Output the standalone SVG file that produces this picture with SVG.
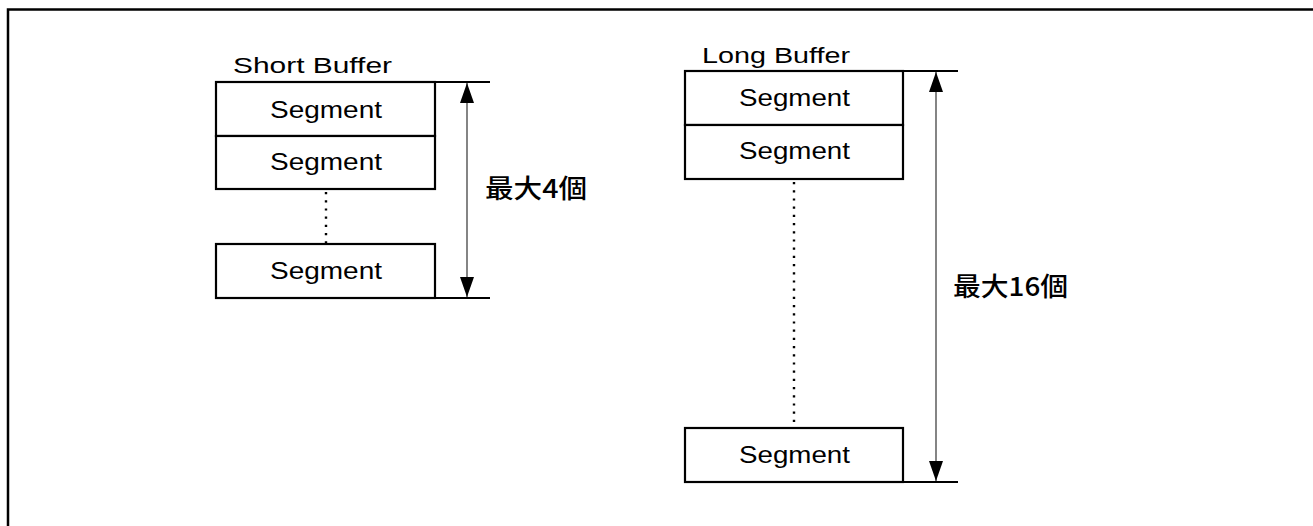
<svg xmlns="http://www.w3.org/2000/svg" width="1313" height="526" viewBox="0 0 1313 526">
<style>
.box{fill:#fff;stroke:#000;stroke-width:2.2}
.seg{font-family:"Liberation Sans","Noto Sans CJK JP",sans-serif;font-size:24px;fill:#000}
.lbl{font-family:"Liberation Sans","Noto Sans CJK JP",sans-serif;font-size:22px;fill:#000}
.jp{font-family:"Noto Sans CJK JP",sans-serif;font-size:26px;font-weight:500;fill:#000}
.ext{stroke:#000;stroke-width:2;fill:none}
.dim{stroke:#333;stroke-width:1.2;fill:none}
.dot{stroke:#000;stroke-width:2.4;stroke-dasharray:2.2 6;fill:none}
</style>
<defs>
<marker id="ah2" viewBox="0 0 20 14" refX="20" refY="7" markerWidth="20" markerHeight="14" markerUnits="userSpaceOnUse" orient="auto">
<path d="M0,0 L20,7 L0,14 Z" fill="#000"/>
</marker>
</defs>
<rect x="0" y="0" width="1313" height="526" fill="#fff"/>
<path d="M8,526 V9.5 H1313" fill="none" stroke="#000" stroke-width="2.5"/>

<g id="short-buffer">
<text class="lbl" x="233" y="73" textLength="159" lengthAdjust="spacingAndGlyphs">Short Buffer</text>
<g id="short-seg1"><rect class="box" x="216" y="82" width="219" height="54"/><text class="seg" x="270" y="118" textLength="112" lengthAdjust="spacingAndGlyphs">Segment</text></g>
<g id="short-seg2"><rect class="box" x="216" y="136" width="219" height="53"/><text class="seg" x="270" y="170" textLength="112" lengthAdjust="spacingAndGlyphs">Segment</text></g>
<g id="short-seg3"><rect class="box" x="216" y="244" width="219" height="54"/><text class="seg" x="270" y="279" textLength="112" lengthAdjust="spacingAndGlyphs">Segment</text></g>
<text class="jp" x="485" y="198" textLength="102" lengthAdjust="spacingAndGlyphs">最大4個</text>
</g>

<g id="long-buffer">
<text class="lbl" x="702" y="63" textLength="148" lengthAdjust="spacingAndGlyphs">Long Buffer</text>
<g id="long-seg1"><rect class="box" x="685" y="71" width="218" height="54"/><text class="seg" x="739" y="106" textLength="111" lengthAdjust="spacingAndGlyphs">Segment</text></g>
<g id="long-seg2"><rect class="box" x="685" y="125" width="218" height="54"/><text class="seg" x="739" y="159" textLength="111" lengthAdjust="spacingAndGlyphs">Segment</text></g>
<g id="long-seg3"><rect class="box" x="685" y="428" width="218" height="54"/><text class="seg" x="739" y="463" textLength="111" lengthAdjust="spacingAndGlyphs">Segment</text></g>
<text class="jp" x="953" y="296" textLength="115" lengthAdjust="spacingAndGlyphs">最大16個</text>
</g>

<g id="connectors">
<line class="dot" x1="326" y1="192" x2="326" y2="244"/>
<line class="dot" x1="794" y1="182" x2="794" y2="428"/>
<line class="ext" x1="435" y1="82" x2="490" y2="82"/>
<line class="ext" x1="435" y1="298" x2="490" y2="298"/>
<line class="ext" x1="903" y1="71" x2="958" y2="71"/>
<line class="ext" x1="903" y1="482" x2="958" y2="482"/>
<line class="dim" x1="467" y1="190" x2="467" y2="83" marker-end="url(#ah2)"/>
<line class="dim" x1="467" y1="190" x2="467" y2="297" marker-end="url(#ah2)"/>
<line class="dim" x1="936" y1="276" x2="936" y2="72" marker-end="url(#ah2)"/>
<line class="dim" x1="936" y1="276" x2="936" y2="481" marker-end="url(#ah2)"/>
</g>
</svg>
